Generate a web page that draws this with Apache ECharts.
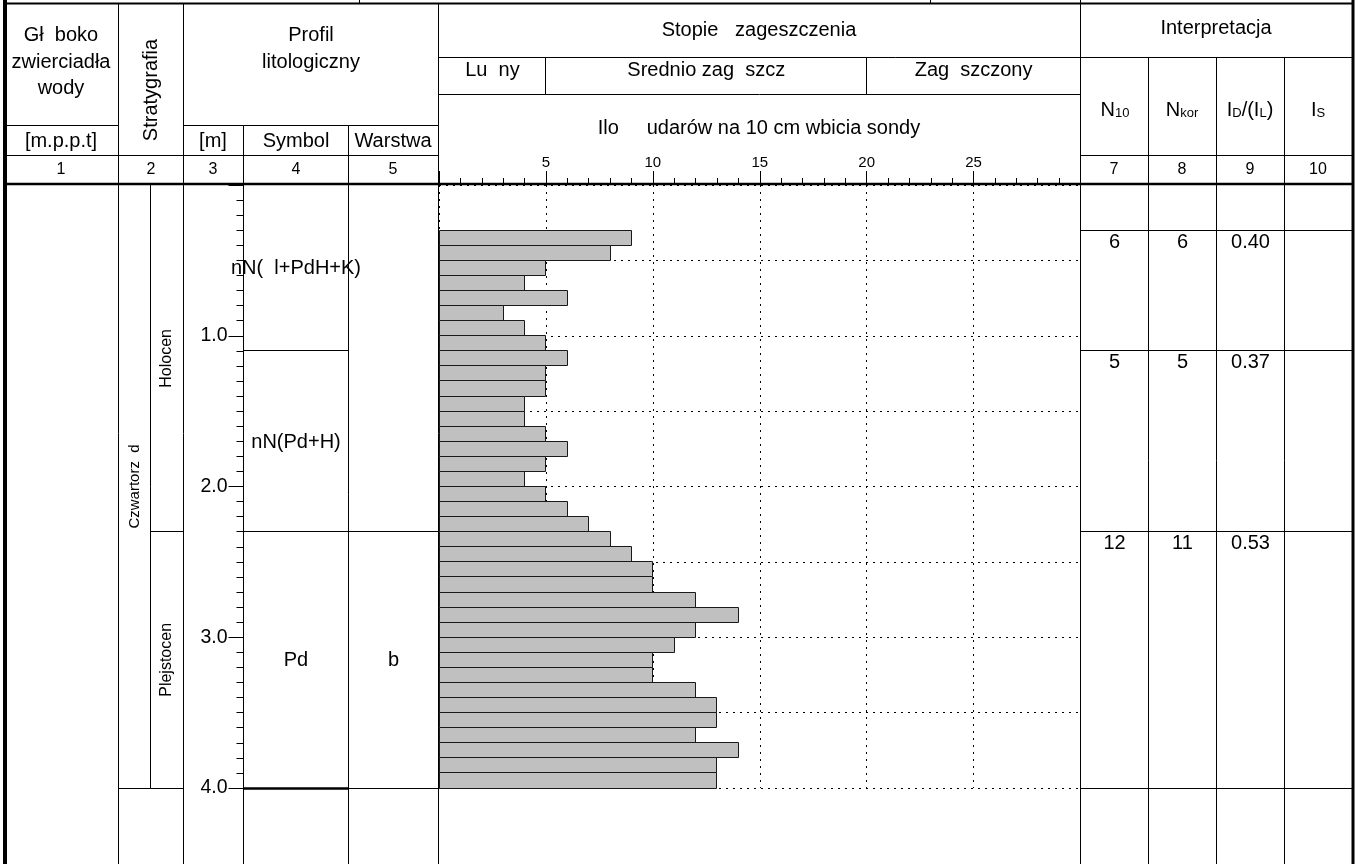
<!DOCTYPE html>
<html>
<head>
<meta charset="utf-8">
<script src="https://cdn.jsdelivr.net/npm/echarts@6/dist/echarts.min.js"></script>
<style>
  html, body { margin: 0; padding: 0; background: #fff; }
  #chart { width: 1359px; height: 864px; }
</style>
</head>
<body>
<div id="chart"></div>
<script>
// ---- Sounding record: blows per 10 cm of probe penetration ----
const intervalTop = [0.3, 0.4, 0.5, 0.6, 0.7, 0.8, 0.9, 1.0, 1.1, 1.2, 1.3, 1.4, 1.5, 1.6, 1.7, 1.8, 1.9, 2.0, 2.1, 2.2,
                     2.3, 2.4, 2.5, 2.6, 2.7, 2.8, 2.9, 3.0, 3.1, 3.2, 3.3, 3.4, 3.5, 3.6, 3.7, 3.8, 3.9];
const intervalBottom = [0.4, 0.5, 0.6, 0.7, 0.8, 0.9, 1.0, 1.1, 1.2, 1.3, 1.4, 1.5, 1.6, 1.7, 1.8, 1.9, 2.0, 2.1, 2.2, 2.3,
                        2.4, 2.5, 2.6, 2.7, 2.8, 2.9, 3.0, 3.1, 3.2, 3.3, 3.4, 3.5, 3.6, 3.7, 3.8, 3.9, 4.0];
const blows = [9, 8, 5, 4, 6, 3, 4, 5, 6, 5, 5, 4, 4, 5, 6, 5, 4, 5, 6, 7,
               8, 9, 10, 10, 12, 14, 12, 11, 10, 10, 12, 13, 13, 12, 14, 13, 13];

// ---- Lithological profile ----
const layerTop = [0.0, 1.1, 2.3];
const layerBottom = [1.1, 2.3, 4.0];
const layerSymbol = ['nN(  l+PdH+K)', 'nN(Pd+H)', 'Pd'];
const layerWarstwa = ['', '', 'b'];

// ---- Stratigraphy ----
const eraTop = [0.0];
const eraBottom = [4.0];
const eraName = ['Czwartorz  d'];
const epochTop = [0.0, 2.3];
const epochBottom = [2.3, 4.0];
const epochName = ['Holocen', 'Plejstocen'];

// ---- Interpretation per layer ----
const interpTop = [0.3, 1.1, 2.3];
const interpBottom = [1.1, 2.3, 4.0];
const n10 = ['6', '5', '12'];
const nKor = ['6', '5', '11'];
const idIl = ['0.40', '0.37', '0.53'];
const iS = ['', '', ''];

// ---- Density classes along the blow-count scale ----
const classFrom = [0, 5, 20];
const classTo = [5, 20, 30];
const className = ['Lu  ny', 'Srednio zag  szcz', 'Zag  szczony'];

// ---- Scales ----
const depthMax = 4.0;
const blowMax = 30;

// ---- Sheet layout (pixels) ----
const FONT = 'Liberation Sans, Arial, Helvetica, sans-serif';
const FS = 20;
const COL = { L: 5, c12: 118.5, c2m: 150.5, c23: 183.5, c34: 243.5, c45: 348.5, c5c: 438.5,
              c7: 1080.5, c78: 1148.5, c89: 1216.5, c910: 1284.5, R: 1352.5 };
const BODY_TOP = 185, BODY_H = 603;

const crisp = v => Math.round(v - 0.5) + 0.5;

function hline(y, x1, x2, w) {
  return { type: 'line', z: 50, silent: true, shape: { x1, y1: y, x2, y2: y }, style: { stroke: '#000', lineWidth: w || 1 } };
}
function vline(x, y1, y2, w) {
  return { type: 'line', z: 50, silent: true, shape: { x1: x, y1, x2: x, y2 }, style: { stroke: '#000', lineWidth: w || 1 } };
}
function label(x, y, text, size, rot) {
  return { type: 'text', z: 50, silent: true, x, y, rotation: rot || 0,
           style: { text, fill: '#000', fontSize: size || FS, fontFamily: FONT, align: 'center', verticalAlign: 'middle' } };
}
function subLabel(x, y, text) {
  return { type: 'text', z: 50, silent: true, x, y,
           style: { text, fill: '#000', align: 'center', verticalAlign: 'middle',
                    rich: { a: { fontSize: FS, fontFamily: FONT, verticalAlign: 'bottom' },
                            b: { fontSize: 13, fontFamily: FONT, verticalAlign: 'bottom', lineHeight: 8 } } } };
}

const graphics = [
  // frame
  vline(5, 0, 864, 4), vline(1353, 0, 864, 3),
  vline(COL.c12, 3, 864), vline(COL.c23, 3, 864), vline(COL.c34, 125.5, 864), vline(COL.c45, 125.5, 864),
  vline(COL.c5c, 3, 864), vline(COL.c7, 0, 864), vline(COL.c78, 57.5, 864), vline(COL.c89, 57.5, 864),
  vline(COL.c910, 57.5, 864), vline(359.5, 0, 3), vline(930.5, 0, 3),
  hline(3.5, 5, 1353, 2), hline(57.5, COL.c5c, 1353), hline(94.5, COL.c5c, COL.c7),
  hline(125.5, 5, COL.c12), hline(125.5, COL.c23, COL.c5c),
  hline(155.5, 5, COL.c5c), hline(155.5, COL.c7, 1353), hline(184, 5, 1353, 2.5),
  // header texts
  label(61, 35, 'Gł  boko'), label(61, 62, 'zwierciadła'), label(61, 88, 'wody'),
  label(151, 90, 'Stratygrafia', FS, Math.PI / 2),
  label(311, 35, 'Profil'), label(311, 62, 'litologiczny'),
  label(61, 141, '[m.p.p.t]'), label(213, 141, '[m]'), label(296, 141, 'Symbol'), label(393, 141, 'Warstwa'),
  label(759, 30, 'Stopie   zageszczenia'),
  label(759, 128, 'Ilo     udarów na 10 cm wbicia sondy'),
  label(1216, 28, 'Interpretacja'),
  subLabel(1115, 110, '{a|N}{b|10}'), subLabel(1182, 110, '{a|N}{b|kor}'),
  subLabel(1250, 110, '{a|I}{b|D}{a|/(I}{b|L}{a|)}'), subLabel(1318, 110, '{a|I}{b|S}'),
  // column numbers
  label(61, 170, '1', 16), label(151, 170, '2', 16), label(213, 170, '3', 16), label(296, 170, '4', 16),
  label(393, 170, '5', 16), label(1114, 170, '7', 16), label(1182, 170, '8', 16), label(1250, 170, '9', 16),
  label(1318, 170, '10', 16)
];

const depthAxisBase = { type: 'value', min: 0, max: depthMax, inverse: true };
const hiddenX = { type: 'value', min: 0, max: 1, show: false };

function txt(x, y, text, size, rot) {
  return { type: 'text', x, y, rotation: rot || 0,
           style: { text, fill: '#000', fontSize: size || FS, fontFamily: FONT, align: 'center', verticalAlign: 'middle' } };
}
function seg(x1, y1, x2, y2, w) {
  return { type: 'line', shape: { x1, y1, x2, y2 }, style: { stroke: '#000', lineWidth: w || 1 } };
}

const option = {
  animation: false,
  grid: [
    { left: 439, top: BODY_TOP, width: 641.5, height: BODY_H },            // blow counts
    { left: 243.5, top: BODY_TOP, width: 195, height: BODY_H },            // depth scale
    { left: 5, top: BODY_TOP, width: 1348, height: BODY_H }                // table body
  ],
  xAxis: [
    { gridIndex: 0, type: 'value', position: 'top', min: 0, max: blowMax, interval: 5,
      axisLine: { show: false },
      axisTick: { show: true, length: 14, lineStyle: { color: '#000', width: 1 } },
      minorTick: { show: true, splitNumber: 5, length: 7, lineStyle: { color: '#000', width: 1 } },
      axisLabel: { show: true, margin: 15, color: '#000', fontSize: 15, fontFamily: FONT,
                   formatter: v => (v === 0 || v === blowMax) ? '' : String(v) },
      splitLine: { show: true, lineStyle: { color: '#000', width: 1, type: [2, 5] } } },
    Object.assign({ gridIndex: 1 }, hiddenX),
    Object.assign({ gridIndex: 2 }, hiddenX)
  ],
  yAxis: [
    Object.assign({ gridIndex: 0, interval: 0.5, axisLine: { show: false }, axisTick: { show: false },
      axisLabel: { show: false },
      splitLine: { show: true, lineStyle: { color: '#000', width: 1, type: [2, 5] } } }, depthAxisBase),
    Object.assign({ gridIndex: 1, position: 'left', interval: 1,
      axisLine: { show: true, lineStyle: { color: '#000', width: 1 } },
      axisTick: { show: true, length: 15, lineStyle: { color: '#000', width: 1 } },
      minorTick: { show: true, splitNumber: 10, length: 7, lineStyle: { color: '#000', width: 1 } },
      axisLabel: { show: true, margin: 16, color: '#000', fontSize: 19.5, fontFamily: FONT,
                   formatter: v => v === 0 ? '' : v.toFixed(1) },
      splitLine: { show: false } }, depthAxisBase),
    Object.assign({ gridIndex: 2, show: false }, depthAxisBase)
  ],
  graphic: { elements: graphics },
  series: [
    // blow-count bars, one per 10 cm interval
    {
      type: 'custom', xAxisIndex: 0, yAxisIndex: 0, z: 5,
      encode: { x: 2, y: 0 },
      data: intervalTop.map((t, i) => [t, intervalBottom[i], blows[i]]),
      renderItem: (params, api) => {
        const p0 = api.coord([0, api.value(0)]);
        const p1 = api.coord([api.value(2), api.value(1)]);
        const x0 = crisp(p0[0]), x1 = crisp(p1[0]), y0 = crisp(p0[1]), y1 = crisp(p1[1]);
        return { type: 'rect', shape: { x: x0, y: y0, width: x1 - x0, height: y1 - y0 },
                 style: { fill: '#c0c0c0', stroke: '#1a1a1a', lineWidth: 1 } };
      }
    },
    // density class captions and dividers in the header
    {
      type: 'custom', xAxisIndex: 0, yAxisIndex: 0, z: 20,
      encode: { x: 0, y: -1 },
      data: classFrom.map((f, i) => [f, classTo[i]]),
      renderItem: (params, api) => {
        const i = params.dataIndex;
        const x0 = api.coord([classFrom[i], 0])[0], x1 = api.coord([classTo[i], 0])[0];
        const children = [txt((x0 + x1) / 2, 70, className[i])];
        if (classFrom[i] > 0) children.push(seg(crisp(x0), 57.5, crisp(x0), 94.5));
        return { type: 'group', children };
      }
    },
    // lithology: symbol and layer columns
    {
      type: 'custom', xAxisIndex: 2, yAxisIndex: 2, z: 20,
      encode: { x: -1, y: 0 },
      data: layerTop.map((t, i) => [t, layerBottom[i]]),
      renderItem: (params, api) => {
        const i = params.dataIndex;
        const y0 = api.coord([0, layerTop[i]])[1], y1 = api.coord([0, layerBottom[i]])[1];
        const ym = (y0 + y1) / 2 + 1, yb = crisp(y1);
        const last = i === layerTop.length - 1;
        const children = [
          seg(COL.c34, yb, COL.c45, yb, last ? 2.5 : 1),
          txt((COL.c34 + COL.c45) / 2, ym, layerSymbol[i])
        ];
        if (last || layerWarstwa[i] !== layerWarstwa[i + 1]) children.push(seg(COL.c45, yb, COL.c5c, yb));
        if (layerWarstwa[i]) children.push(txt((COL.c45 + COL.c5c) / 2, ym, layerWarstwa[i]));
        return { type: 'group', children };
      }
    },
    // stratigraphy: era (outer sub-column)
    {
      type: 'custom', xAxisIndex: 2, yAxisIndex: 2, z: 20,
      encode: { x: -1, y: 0 },
      data: eraTop.map((t, i) => [t, eraBottom[i]]),
      renderItem: (params, api) => {
        const i = params.dataIndex;
        const y0 = api.coord([0, eraTop[i]])[1], y1 = api.coord([0, eraBottom[i]])[1];
        return { type: 'group', children: [
          seg(COL.c12, crisp(y1), COL.c2m, crisp(y1)),
          seg(COL.c2m, y0, COL.c2m, crisp(y1)),
          txt((COL.c12 + COL.c2m) / 2, (y0 + y1) / 2, eraName[i], 15, Math.PI / 2)
        ] };
      }
    },
    // stratigraphy: epoch (inner sub-column)
    {
      type: 'custom', xAxisIndex: 2, yAxisIndex: 2, z: 20,
      encode: { x: -1, y: 0 },
      data: epochTop.map((t, i) => [t, epochBottom[i]]),
      renderItem: (params, api) => {
        const i = params.dataIndex;
        const y0 = api.coord([0, epochTop[i]])[1], y1 = api.coord([0, epochBottom[i]])[1];
        return { type: 'group', children: [
          seg(COL.c2m, crisp(y1), COL.c23, crisp(y1)),
          txt((COL.c2m + COL.c23) / 2, (y0 + y1) / 2, epochName[i], 16, Math.PI / 2)
        ] };
      }
    },
    // interpretation table rows
    {
      type: 'custom', xAxisIndex: 2, yAxisIndex: 2, z: 20,
      encode: { x: -1, y: 0 },
      data: interpTop.map((t, i) => [t, interpBottom[i]]),
      renderItem: (params, api) => {
        const i = params.dataIndex;
        const y0 = crisp(api.coord([0, interpTop[i]])[1]), y1 = crisp(api.coord([0, interpBottom[i]])[1]);
        const yt = y0 + 12;
        const children = [
          seg(COL.c7, y0, COL.R, y0),
          txt((COL.c7 + COL.c78) / 2, yt, n10[i]),
          txt((COL.c78 + COL.c89) / 2, yt, nKor[i]),
          txt((COL.c89 + COL.c910) / 2, yt, idIl[i]),
          txt((COL.c910 + COL.R) / 2, yt, iS[i])
        ];
        if (i === interpTop.length - 1) children.push(seg(COL.c7, y1, COL.R, y1));
        return { type: 'group', children };
      }
    }
  ]
};

const chart = echarts.init(document.getElementById('chart'), null, { renderer: 'canvas' });
chart.setOption(option);
</script>
</body>
</html>
